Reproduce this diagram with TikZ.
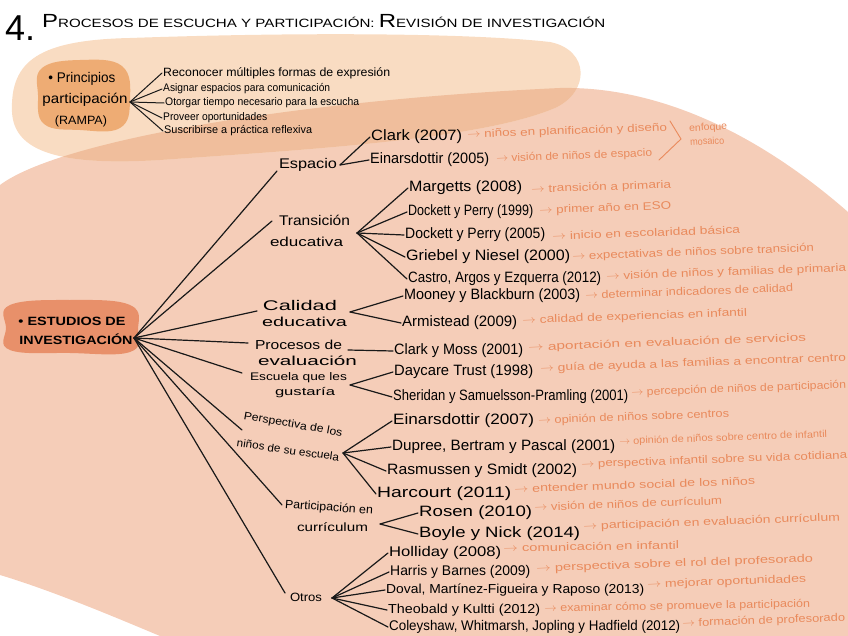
\documentclass[tikz,border=0pt]{standalone}
\usepackage{fontspec}
\setmainfont{Liberation Sans}
\usepackage{graphicx}
\definecolor{topblob}{HTML}{F9DCC2}
\definecolor{bigblob}{HTML}{F5CDB8}
\definecolor{overlap}{HTML}{F0BE9C}
\definecolor{principios}{HTML}{EEAC74}
\definecolor{estudios}{HTML}{E8906A}
\definecolor{orangetxt}{HTML}{E98A5C}
\newcommand\fw[2]{\resizebox{#1pt}{\height}{#2}}
\newcommand\arr{$\rightarrow$\ }
\tikzset{
 blk/.style={inner sep=1pt, text=black, anchor=west, font=\fontsize{15}{15}\selectfont},
 cat/.style={inner sep=1pt, text=black, font=\fontsize{13}{13}\selectfont},
 org/.style={inner sep=1pt, text=orangetxt, font=\fontsize{11}{11}\selectfont, rotate=2, anchor=west},
 ramp/.style={inner sep=1pt, text=black, font=\fontsize{11}{11}\selectfont, anchor=west},
 ln/.style={line width=1.2pt, draw=black!90, line cap=round},
 oln/.style={line width=0.9pt, draw=orangetxt, line cap=round},
}
\begin{document}
\begin{tikzpicture}[x=1pt,y=-1pt]
\useasboundingbox (0,0) rectangle (848,636);
% background blobs
\fill[bigblob] (0,185) .. controls (60,140) and (300,100) .. (560,88) .. controls (660,86) and (760,135) .. (848,212) -- (848,636) -- (160,636) .. controls (110,615) and (50,590) .. (0,575) -- cycle;
\fill[topblob] (12,112) .. controls (10,60) and (40,40) .. (130,38) .. controls (300,32) and (470,33) .. (550,42) .. controls (590,50) and (590,92) .. (555,108) .. controls (480,140) and (300,150) .. (160,160) .. controls (60,166) and (14,152) .. (12,112) -- cycle;
\begin{scope}
\clip (12,112) .. controls (10,60) and (40,40) .. (130,38) .. controls (300,32) and (470,33) .. (550,42) .. controls (590,50) and (590,92) .. (555,108) .. controls (480,140) and (300,150) .. (160,160) .. controls (60,166) and (14,152) .. (12,112) -- cycle;
\fill[overlap] (0,185) .. controls (60,140) and (300,100) .. (560,88) .. controls (660,86) and (760,135) .. (848,212) -- (848,636) -- (160,636) .. controls (110,615) and (50,590) .. (0,575) -- cycle;
\end{scope}
\fill[principios] plot[smooth cycle, tension=0.7] coordinates {(42,68) (80,60) (122,66) (130,100) (120,128) (80,130) (44,124) (38,95)};
\fill[estudios] plot[smooth cycle, tension=0.7] coordinates {(10,305) (70,300) (130,305) (138,330) (130,352) (70,353) (10,350) (6,328)};

% title
\node[inner sep=0, anchor=west, font=\fontsize{36}{36}\selectfont] (num) at (5,28) {4.};
\node[inner sep=0, anchor=west, font=\fontsize{12}{12}\selectfont] (title) at (42,21) {\fw{563}{{\fontsize{19}{19}\selectfont P}ROCESOS DE ESCUCHA Y PARTICIPACIÓN: {\fontsize{19}{19}\selectfont R}EVISIÓN DE INVESTIGACIÓN}};

% Principios participacion (RAMPA)
\node[cat, font=\fontsize{14}{14}\selectfont] (pp1) at (82,79) {\fw{67}{• Principios}};
\node[cat, font=\fontsize{14}{14}\selectfont] (pp2) at (85,100) {\fw{85}{participación}};
\node[cat, font=\fontsize{12}{12}\selectfont] (pp3) at (81,121) {\fw{52}{(RAMPA)}};
\coordinate (rh) at (130,102);
\node[ramp, font=\fontsize{12}{12}\selectfont] (r1) at (162,73) {\fw{227}{Reconocer múltiples formas de expresión}};
\node[ramp] (r2) at (162,89) {\fw{167}{Asignar espacios para comunicación}};
\node[ramp] (r3) at (164,103) {\fw{194}{Otorgar tiempo necesario para la escucha}};
\node[ramp] (r4) at (162,118) {\fw{104}{Proveer oportunidades}};
\node[ramp] (r5) at (163,131) {\fw{148}{Suscribirse a práctica reflexiva}};
\foreach \n in {r1,r2,r3,r4,r5} \draw[ln, line width=1pt] (rh) -- (\n.west);

% Estudios de investigacion
\node[cat, font=\bfseries\fontsize{12}{12}\selectfont] (est1) at (72,321) {\fw{107}{• ESTUDIOS DE}};
\node[cat, font=\bfseries\fontsize{12}{12}\selectfont] (est2) at (76,339) {\fw{113}{INVESTIGACIÓN}};
\coordinate (hub) at (134,338);

% categories
\node[cat, font=\fontsize{14}{14}\selectfont] (espL) at (308,165) {\fw{58}{Espacio}};
\coordinate (espIn) at (277,171); \coordinate (espOut) at (340,165);
\node[cat, font=\fontsize{14}{14}\selectfont] (tr1) at (314.5,220) {\fw{71}{Transición}};
\node[cat] (tr2) at (306.5,242) {\fw{73}{educativa}};
\coordinate (trIn) at (272,221); \coordinate (trOut) at (357,233);
\node[cat, font=\fontsize{14}{14}\selectfont] (ca1) at (300,305) {\fw{74}{Calidad}};
\node[cat] (ca2) at (304.5,322) {\fw{85}{educativa}};
\coordinate (caIn) at (257,311); \coordinate (caOut) at (350,312);
\node[cat] (pr1) at (298.5,345) {\fw{87}{Procesos de}};
\node[cat] (pr2) at (307.5,361) {\fw{99}{evaluación}};
\coordinate (prIn) at (248,343); \coordinate (prOut) at (348,350);
\node[cat, font=\fontsize{11}{11}\selectfont] (es1) at (298.5,378) {\fw{97}{Escuela que les}};
\node[cat, font=\fontsize{11}{11}\selectfont] (es2) at (305,393) {\fw{60}{gustaría}};
\coordinate (esIn) at (242,373); \coordinate (esOut) at (350,385);
\node[cat, font=\fontsize{11}{11}\selectfont, rotate=-10] (pe1) at (293,425) {\fw{100}{Perspectiva de los}};
\node[cat, font=\fontsize{11}{11}\selectfont, rotate=-8] (pe2) at (288,450) {\fw{103}{niños de su escuela}};
\coordinate (peIn) at (242,430); \coordinate (peOut) at (343,453);
\node[cat, font=\fontsize{12}{12}\selectfont, rotate=-4] (pa1) at (329,508) {\fw{88}{Participación en}};
\node[cat, font=\fontsize{12}{12}\selectfont] (pa2) at (332.5,527) {\fw{71}{currículum}};
\coordinate (paIn) at (282,505); \coordinate (paOut) at (380,524);
\node[cat, font=\fontsize{12}{12}\selectfont] (ot) at (306,597) {\fw{32}{Otros}};
\coordinate (otIn) at (285,593); \coordinate (otOut) at (332,598);

\foreach \c in {espIn,trIn,caIn,prIn,esIn,peIn,paIn,otIn} \draw[ln] (hub) -- (\c);

% Espacio
\node[blk] (e1) at (370,137) {\fw{91}{Clark (2007)}};
\node[blk] (e2) at (369,160) {\fw{119}{Einarsdottir (2005)}};
\node[org] (e1o) at (466,135) {\fw{200}{\arr niños en planificación y diseño}};
\node[org] (e2o) at (495,159) {\fw{156}{\arr visión de niños de espacio}};
\coordinate (b1) at (670,121); \coordinate (b2) at (681,139); \coordinate (b3) at (659,160);
\draw[oln] (b1) -- (b2) -- (b3);
\node[inner sep=0, text=orangetxt, font=\fontsize{10}{10}\selectfont, rotate=3, anchor=west] (enf) at (689,129) {\fw{38}{enfoque}};
\node[inner sep=0, text=orangetxt, font=\fontsize{10}{10}\selectfont, rotate=3, anchor=west] (mos) at (690,142) {\fw{34}{mosaico}};
\foreach \n in {e1,e2} \draw[ln] (espOut) -- (\n.west);

% Transicion
\node[blk] (t1) at (408,188) {\fw{113}{Margetts (2008)}};
\node[blk] (t2) at (407,212) {\fw{125}{Dockett y Perry (1999)}};
\node[blk] (t3) at (404,235) {\fw{140}{Dockett y Perry (2005)}};
\node[blk] (t4) at (405,257) {\fw{164}{Griebel y Niesel (2000)}};
\node[blk] (t5) at (407,279) {\fw{193}{Castro, Argos y Ezquerra (2012)}};
\node[org] (t1o) at (530,190) {\fw{140}{\arr transición a primaria}};
\node[org] (t2o) at (538,211) {\fw{132}{\arr primer año en ESO}};
\node[org] (t3o) at (551,236) {\fw{188}{\arr inicio en escolaridad básica}};
\node[org] (t4o) at (571,257) {\fw{242}{\arr expectativas de niños sobre transición}};
\node[org] (t5o) at (605,277) {\fw{240}{\arr visión de niños y familias de primaria}};
\foreach \n in {t1,t2,t3,t4,t5} \draw[ln] (trOut) -- (\n.west);

% Calidad
\node[blk] (c1) at (403,296) {\fw{176}{Mooney y Blackburn (2003)}};
\node[blk] (c2) at (401,323) {\fw{115}{Armistead (2009)}};
\node[org] (c1o) at (584,295) {\fw{208}{\arr determinar indicadores de calidad}};
\node[org] (c2o) at (521,321) {\fw{225}{\arr calidad de experiencias en infantil}};
\foreach \n in {c1,c2} \draw[ln] (caOut) -- (\n.west);

% Procesos
\node[blk] (p1) at (393,351) {\fw{129}{Clark y Moss (2001)}};
\node[org] (p1o) at (527,348) {\fw{278}{\arr aportación en evaluación de servicios}};
\draw[ln] (prOut) -- (p1.west);

% Escuela
\node[blk] (s1) at (393,372) {\fw{139}{Daycare Trust (1998)}};
\node[blk] (s2) at (392,397) {\fw{235}{Sheridan y Samuelsson-Pramling (2001)}};
\node[org] (s1o) at (539,369) {\fw{306}{\arr guía de ayuda a las familias a encontrar centro}};
\node[org] (s2o) at (630,393) {\fw{215}{\arr percepción de niños de participación}};
\foreach \n in {s1,s2} \draw[ln] (esOut) -- (\n.west);

% Perspectiva
\node[blk] (q1) at (392,421) {\fw{141}{Einarsdottir (2007)}};
\node[blk] (q2) at (391,447) {\fw{223}{Dupree, Bertram y Pascal (2001)}};
\node[blk] (q3) at (386,471) {\fw{190}{Rasmussen y Smidt (2002)}};
\node[blk] (q4) at (376,494) {\fw{134}{Harcourt (2011)}};
\node[org] (q1o) at (537,421) {\fw{191}{\arr opinión de niños sobre centros}};
\node[org, font=\fontsize{10}{10}\selectfont] (q2o) at (618,442) {\fw{208}{\arr opinión de niños sobre centro de infantil}};
\node[org] (q3o) at (580,465) {\fw{266}{\arr perspectiva infantil sobre su vida cotidiana}};
\node[org] (q4o) at (513,489) {\fw{241}{\arr entender mundo social de los niños}};
\foreach \n in {q1,q2,q3,q4} \draw[ln] (peOut) -- (\n.west);

% Participacion
\node[blk] (u1) at (418,513) {\fw{113}{Rosen (2010)}};
\node[blk] (u2) at (418,534) {\fw{161}{Boyle y Nick (2014)}};
\node[org] (u1o) at (533,507) {\fw{188}{\arr visión de niños de currículum}};
\node[org] (u2o) at (582,527) {\fw{257}{\arr participación en evaluación currículum}};
\foreach \n in {u1,u2} \draw[ln] (paOut) -- (\n.west);

% Otros
\node[blk, font=\fontsize{14}{14}\selectfont] (o1) at (388,553) {\fw{112}{Holliday (2008)}};
\node[blk, font=\fontsize{14}{14}\selectfont] (o2) at (389,572) {\fw{140}{Harris y Barnes (2009)}};
\node[blk, font=\fontsize{13}{13}\selectfont] (o3) at (385,590) {\fw{258}{Doval, Martínez-Figueira y Raposo (2013)}};
\node[blk, font=\fontsize{13}{13}\selectfont] (o4) at (387,610) {\fw{152}{Theobald y Kultti (2012)}};
\node[blk, font=\fontsize{14}{14}\selectfont] (o5) at (388,627) {\fw{291}{Coleyshaw, Whitmarsh, Jopling y Hadfield (2012)}};
\node[org, rotate=-1] (o1o) at (502,548) {\fw{176}{\arr comunicación en infantil}};
\node[org] (o2o) at (535,569) {\fw{277}{\arr perspectiva sobre el rol del profesorado}};
\node[org] (o3o) at (646,585) {\fw{159}{\arr mejorar oportunidades}};
\node[org, rotate=-1] (o4o) at (543,609) {\fw{266}{\arr examinar cómo se promueve la participación}};
\node[org] (o5o) at (681,624) {\fw{163}{\arr formación de profesorado}};
\foreach \n in {o1,o2,o3,o4,o5} \draw[ln] (otOut) -- (\n.west);
\end{tikzpicture}
\end{document}
